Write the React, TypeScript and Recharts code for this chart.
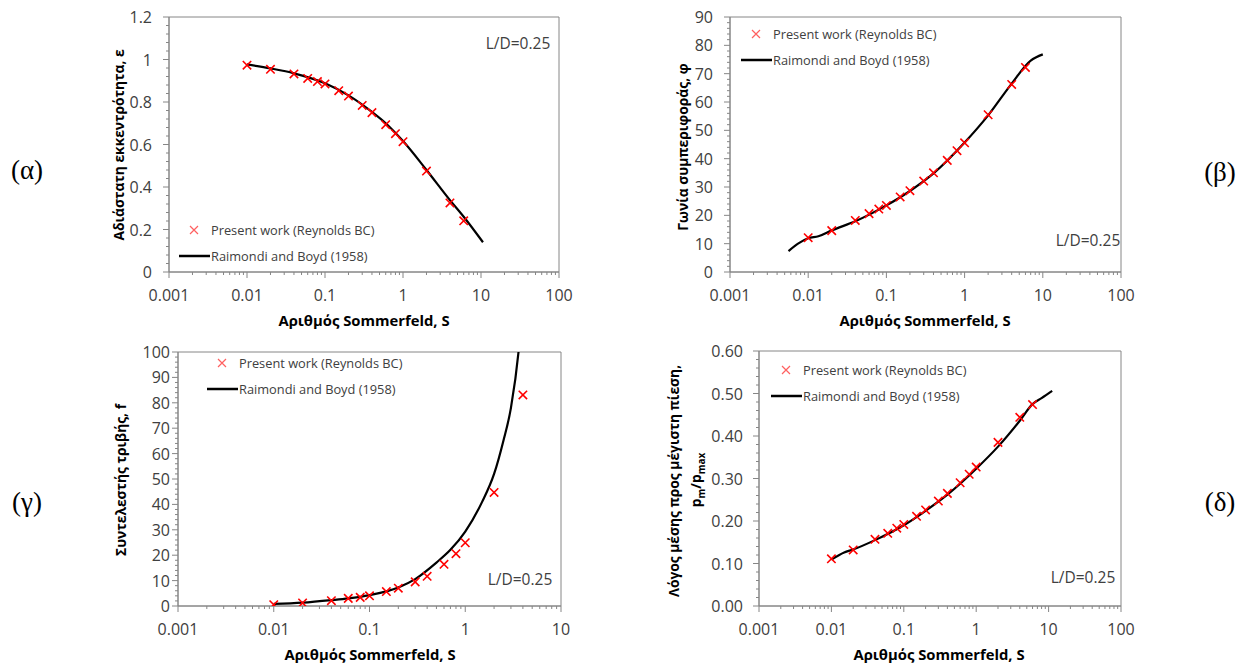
import React from 'react'
import { ComposedChart, Line, XAxis, YAxis, ReferenceArea } from 'recharts'

const FONT = '"Open Sans", "Noto Sans", sans-serif'
const AXIS = '#868686'
const TXT = '#404040'
const RED = '#ff0000'

// Sommerfeld numbers of the computed points (same for all four panels)
const S_POINTS = [0.01, 0.02, 0.04, 0.06, 0.08, 0.1, 0.15, 0.2, 0.3, 0.4, 0.6, 0.8, 1, 2, 4, 6]
const S_POINTS_F = [0.01, 0.02, 0.04, 0.06, 0.08, 0.1, 0.15, 0.2, 0.3, 0.4, 0.6, 0.8, 1, 2, 4]

// (α) eccentricity ratio
const ECC_POINTS = [0.973, 0.954, 0.932, 0.911, 0.896, 0.885, 0.853, 0.828, 0.784, 0.75, 0.693, 0.651, 0.613, 0.475, 0.325, 0.241]
const ECC_REF_S = [0.01, 0.02, 0.04, 0.1, 0.2, 0.4, 0.6, 1, 2, 4, 6, 10.6]
const ECC_REF = [0.977, 0.958, 0.935, 0.888, 0.831, 0.753, 0.7, 0.616, 0.48, 0.338, 0.26, 0.14]

// (β) attitude angle
const PHI_POINTS = [12.1, 14.6, 18.2, 20.6, 22.2, 23.5, 26.5, 28.7, 32.1, 35.0, 39.4, 42.8, 45.6, 55.5, 66.2, 72.2]
const PHI_REF_S = [0.0056, 0.0075, 0.01, 0.0135, 0.02, 0.04, 0.1, 0.2, 0.4, 1, 2, 4, 7, 10]
const PHI_REF = [7.4, 10.1, 11.9, 12.6, 14.7, 17.9, 23.5, 28.6, 34.8, 45.7, 55.3, 66.5, 74.6, 76.8]

// (γ) friction coefficient
const F_POINTS = [0.5, 1.2, 2.1, 3.0, 3.4, 4.0, 5.7, 7.0, 9.5, 11.7, 16.4, 20.6, 24.9, 44.7, 83.1]
const F_REF_S = [0.01, 0.02, 0.04, 0.06, 0.1, 0.2, 0.3, 0.5, 0.7, 1, 1.5, 2, 2.5, 3, 3.6, 3.9]
const F_REF = [0.8, 1.3, 2.3, 3.0, 4.3, 7.3, 10.6, 17.1, 22.1, 29.3, 41, 52, 65, 78, 100, 115]

// (δ) mean to max pressure ratio
const P_POINTS = [0.111, 0.132, 0.157, 0.171, 0.183, 0.192, 0.211, 0.226, 0.247, 0.265, 0.29, 0.31, 0.327, 0.385, 0.444, 0.474]
const P_REF_S = [0.01, 0.015, 0.02, 0.04, 0.1, 0.2, 0.4, 1, 2, 4, 6, 8, 11.2]
const P_REF = [0.109, 0.126, 0.133, 0.155, 0.19, 0.224, 0.262, 0.323, 0.375, 0.436, 0.475, 0.489, 0.506]

const X_MAJOR_100 = [0.001, 0.01, 0.1, 1, 10, 100]
const X_MAJOR_10 = [0.001, 0.01, 0.1, 1, 10]
const MINOR_STEPS = [2, 3, 4, 5, 6, 7, 8, 9]

const Y_ECC = [0, 0.2, 0.4, 0.6, 0.8, 1, 1.2]
const Y_PHI = [0, 10, 20, 30, 40, 50, 60, 70, 80, 90]
const Y_F = [0, 10, 20, 30, 40, 50, 60, 70, 80, 90, 100]
const Y_P = [0, 0.1, 0.2, 0.3, 0.4, 0.5, 0.6]

type Pt = { s: number; v: number }
const zip = (xs: number[], ys: number[]): Pt[] => xs.map((s, i) => ({ s, v: ys[i] }))

const logTicks = (majors: number[]) => {
  const out: number[] = []
  majors.forEach((m, i) => {
    out.push(m)
    if (i < majors.length - 1) MINOR_STEPS.forEach(k => out.push(+(m * k).toPrecision(3)))
  })
  return out
}
const linTicks = (majors: number[], sub: number) => {
  const out: number[] = []
  const step = majors[1] - majors[0]
  for (let i = 0; i < majors.length - 1; i++) {
    for (let j = 0; j < sub; j++) out.push(+(majors[i] + (step * j) / sub).toPrecision(6))
  }
  out.push(majors[majors.length - 1])
  return out
}
const isMajor = (v: number, majors: number[]) => majors.some(m => Math.abs(m - v) < 1e-9 * Math.max(1, Math.abs(m)))

interface PanelProps {
  left: number
  top: number
  w: number
  h: number
  xMajor: number[]
  yMajor: number[]
  ySub: number
  yFmt: (v: number) => string
  yGap: number
  refData: Pt[]
  ptData: Pt[]
}

function Panel(p: PanelProps) {
  const ml = 70, mt = 12, mr = 30, mb = 40
  const xTicks = logTicks(p.xMajor)
  const yTicks = linTicks(p.yMajor, p.ySub)
  const xMin = p.xMajor[0], xMax = p.xMajor[p.xMajor.length - 1]
  const yMax = p.yMajor[p.yMajor.length - 1]
  const XTick = (t: any) => {
    const major = isMajor(t.payload.value, p.xMajor)
    return (
      <g>
        <line x1={t.x} x2={t.x} y1={t.y} y2={t.y + (major ? 6 : 3)} stroke={AXIS} />
        {major && (
          <text x={t.x} y={t.y + 23} textAnchor="middle" dominantBaseline="central" fill={TXT} fontSize={16} fontFamily={FONT}>
            {String(t.payload.value)}
          </text>
        )}
      </g>
    )
  }
  const YTick = (t: any) => {
    const major = isMajor(t.payload.value, p.yMajor)
    return (
      <g>
        <line x1={t.x - (major ? 6 : 3)} x2={t.x} y1={t.y} y2={t.y} stroke={AXIS} />
        {major && (
          <text x={t.x - p.yGap} y={t.y} textAnchor="end" dominantBaseline="central" fill={TXT} fontSize={16} fontFamily={FONT}>
            {p.yFmt(t.payload.value)}
          </text>
        )}
      </g>
    )
  }
  const Cross = (d: any) => {
    const { cx, cy, index } = d
    if (cx == null || cy == null) return <g key={index} />
    const r = 4.2
    return (
      <path key={index} d={`M${cx - r},${cy - r}L${cx + r},${cy + r}M${cx - r},${cy + r}L${cx + r},${cy - r}`} stroke={RED} strokeWidth={1.6} fill="none" />
    )
  }
  return (
    <div style={{ position: 'absolute', left: p.left - ml, top: p.top - mt }}>
      <ComposedChart width={ml + p.w + mr} height={mt + p.h + mb} margin={{ top: mt, right: mr, left: 0, bottom: 0 }}>
        <XAxis
          type="number"
          dataKey="s"
          scale="log"
          domain={[xMin, xMax]}
          allowDataOverflow
          ticks={xTicks}
          interval={0}
          tickSize={0}
          tickMargin={0}
          tickLine={false}
          stroke={AXIS}
          height={mb}
          tick={XTick}
        />
        <YAxis
          type="number"
          dataKey="v"
          domain={[0, yMax]}
          allowDataOverflow
          ticks={yTicks}
          interval={0}
          tickSize={0}
          tickMargin={0}
          tickLine={false}
          stroke={AXIS}
          width={ml}
          tick={YTick}
        />
        <ReferenceArea x1={xMin} x2={xMax} y1={0} y2={yMax} fill="none" stroke={AXIS} strokeWidth={1} />
        <Line data={p.refData} dataKey="v" type="monotone" stroke="#000" strokeWidth={2.2} dot={false} activeDot={false} isAnimationActive={false} />
        <Line data={p.ptData} dataKey="v" stroke="none" dot={Cross} activeDot={false} isAnimationActive={false} />
      </ComposedChart>
    </div>
  )
}

function LegendBox({ left, top }: { left: number; top: number }) {
  return (
    <div style={{ position: 'absolute', left, top, fontFamily: FONT, fontSize: 12.8, color: TXT, lineHeight: '26px' }}>
      <div style={{ display: 'flex', alignItems: 'center' }}>
        <svg width={33} height={26}>
          <path d="M12,9L20,17M12,17L20,9" stroke="#ff6060" strokeWidth={1.2} />
        </svg>
        <span>Present work (Reynolds BC)</span>
      </div>
      <div style={{ display: 'flex', alignItems: 'center' }}>
        <svg width={33} height={26}>
          <line x1={1} x2={32} y1={13} y2={13} stroke="#000" strokeWidth={2.5} />
        </svg>
        <span>Raimondi and Boyd (1958)</span>
      </div>
    </div>
  )
}

function Note({ cx, cy, children, style }: { cx: number; cy: number; children: React.ReactNode; style?: React.CSSProperties }) {
  return (
    <div style={{ position: 'absolute', left: cx, top: cy, transform: 'translate(-50%, -50%)', whiteSpace: 'nowrap', fontFamily: FONT, ...style }}>
      {children}
    </div>
  )
}

function YTitle({ cx, cy, children }: { cx: number; cy: number; children: React.ReactNode }) {
  return (
    <div style={{ position: 'absolute', left: cx, top: cy, transform: 'translate(-50%, -50%) rotate(-90deg)', whiteSpace: 'nowrap', fontFamily: FONT, fontWeight: 700, fontSize: 13.8, color: '#000' }}>
      {children}
    </div>
  )
}

const xTitle: React.CSSProperties = { fontWeight: 700, fontSize: 14.8, color: '#000' }
const ldStyle: React.CSSProperties = { fontSize: 15.5, color: TXT }
const tag: React.CSSProperties = { fontFamily: '"Liberation Serif", "DejaVu Serif", serif', fontSize: 27, color: '#000' }

export default function App() {
  return (
    <div style={{ position: 'absolute', left: 0, top: 0, width: 1246, height: 666, background: '#fff', overflow: 'hidden' }}>
      {/* (α) */}
      <Panel left={169} top={17} w={390} h={255} xMajor={X_MAJOR_100} yMajor={Y_ECC} ySub={5} yFmt={v => String(v)} yGap={17}
        refData={zip(ECC_REF_S, ECC_REF)} ptData={zip(S_POINTS, ECC_POINTS)} />
      {/* (β) */}
      <Panel left={730} top={17} w={391} h={255} xMajor={X_MAJOR_100} yMajor={Y_PHI} ySub={5} yFmt={v => String(v)} yGap={17}
        refData={zip(PHI_REF_S, PHI_REF)} ptData={zip(S_POINTS, PHI_POINTS)} />
      {/* (γ) */}
      <Panel left={178} top={352} w={383} h={254} xMajor={X_MAJOR_10} yMajor={Y_F} ySub={5} yFmt={v => String(v)} yGap={8}
        refData={zip(F_REF_S, F_REF)} ptData={zip(S_POINTS_F, F_POINTS)} />
      {/* (δ) */}
      <Panel left={759} top={351} w={362} h={255} xMajor={X_MAJOR_100} yMajor={Y_P} ySub={5} yFmt={v => v.toFixed(2)} yGap={16}
        refData={zip(P_REF_S, P_REF)} ptData={zip(S_POINTS, P_POINTS)} />

      <LegendBox left={178} top={217} />
      <LegendBox left={740} top={21} />
      <LegendBox left={206} top={350} />
      <LegendBox left={770} top={357} />

      <Note cx={518} cy={43} style={ldStyle}>L/D=0.25</Note>
      <Note cx={1088} cy={240} style={ldStyle}>L/D=0.25</Note>
      <Note cx={520} cy={579} style={ldStyle}>L/D=0.25</Note>
      <Note cx={1083} cy={577} style={ldStyle}>L/D=0.25</Note>

      <Note cx={364} cy={320} style={xTitle}>Αριθμός Sommerfeld, S</Note>
      <Note cx={925} cy={320} style={xTitle}>Αριθμός Sommerfeld, S</Note>
      <Note cx={370} cy={654} style={xTitle}>Αριθμός Sommerfeld, S</Note>
      <Note cx={939} cy={654} style={xTitle}>Αριθμός Sommerfeld, S</Note>

      <YTitle cx={118} cy={145}>Αδιάστατη εκκεντρότητα, ε</YTitle>
      <YTitle cx={682} cy={147}>Γωνία συμπεριφοράς, φ</YTitle>
      <YTitle cx={120} cy={480}>Συντελεστής τριβής, f</YTitle>
      <YTitle cx={673} cy={481}>Λόγος μέσης προς μέγιστη πίεση,</YTitle>
      <YTitle cx={697} cy={480}>
        <span>p<sub style={{ fontSize: 10 }}>m</sub>/p<sub style={{ fontSize: 10 }}>max</sub></span>
      </YTitle>

      <Note cx={27} cy={170} style={tag}>(α)</Note>
      <Note cx={1220} cy={172} style={tag}>(β)</Note>
      <Note cx={27} cy={502} style={tag}>(γ)</Note>
      <Note cx={1220} cy={502} style={tag}>(δ)</Note>
    </div>
  )
}
